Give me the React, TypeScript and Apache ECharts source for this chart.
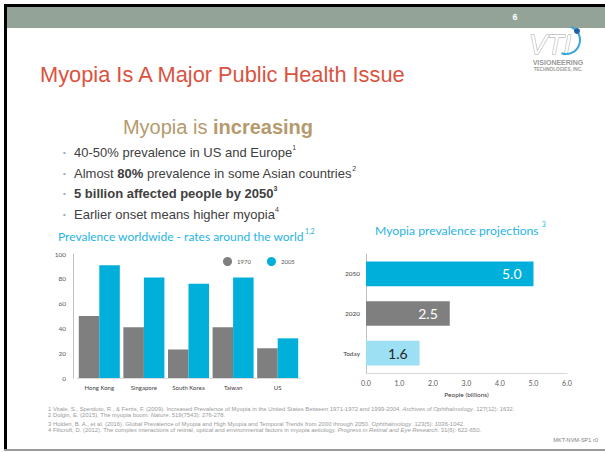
import React, { useEffect, useRef } from "react";
import * as echarts from "echarts";

// ---------- data ----------
const regions = ["Hong Kong", "Singapore", "South Korea", "Taiwan", "US"];
const rate1970 = [50, 41, 23, 41, 24];
const rate2005 = [91, 81, 76, 81, 32];
const legendNames = ["1970", "2005"];

const projCategories = ["Today", "2020", "2050"];
const projValues = [1.6, 2.5, 5.0];
const projColors = ["#9ddff3", "#7f7f7f", "#00b0da"];
const projLabelColors = ["#262626", "#ffffff", "#ffffff"];

const bullets = [
  "{n|40-50% prevalence in US and Europe}{s|1}",
  "{n|Almost }{b|80%}{n| prevalence in some Asian countries}{s|2}",
  "{b|5 billion affected people by 2050}{sb|3}",
  "{n|Earlier onset means higher myopia}{s|4}",
];

const footnotes = [
  "{n|1 Vitale, S., Sperduto, R., & Ferris, F. (2009). Increased Prevalence of Myopia in the United States Between 1971-1972 and 1999-2004. }{i|Archives of Ophthalmology}{n|. 127(12): 1632.}",
  "{n|2 Dolgin, E. (2015). The myopia boom. }{i|Nature}{n|. 519(7543): 276-278.}",
  "{n|3 Holden, B. A., et al. (2016). Global Prevalence of Myopia and High Myopia and Temporal Trends from 2000 through 2050. }{i|Ophthalmology}{n|. 123(5): 1036-1042.}",
  "{n|4 Flitcroft, D. (2012). The complex interactions of retinal, optical and environmental factors in myopia aetiology. }{i|Progress in Retinal and Eye Research}{n|. 31(6): 622-650.}",
];

const GRAY = "#7f7f7f";
const CYAN = "#00b0da";
const TITLE_CYAN = "#27b4e3";
const GEO = "Lato, 'DejaVu Sans', sans-serif";
const ARIAL = "'Liberation Sans', Arial, sans-serif";

export default function App() {
  const ref = useRef<HTMLDivElement>(null);

  useEffect(() => {
    if (!ref.current) return;
    const chart = echarts.init(ref.current, undefined, { renderer: "svg" });

    const bulletY = [152, 173, 193, 214];
    const footY = [409, 415, 424, 430];

    const graphic: any[] = [
      // slide frame
      { type: "rect", shape: { x: 4, y: 4, width: 601, height: 3 }, style: { fill: "#000" } },
      { type: "rect", shape: { x: 4, y: 4, width: 3, height: 447 }, style: { fill: "#000" } },
      { type: "rect", shape: { x: 7, y: 7, width: 598, height: 21 }, style: { fill: "#94a398" } },
      { type: "rect", shape: { x: 4, y: 449, width: 601, height: 2 }, style: { fill: "#9a9a9a" } },
      {
        type: "text",
        style: { x: 515, y: 17, text: "6", fill: "#ffffff", fontSize: 9, fontWeight: "bold", fontFamily: ARIAL, align: "center", verticalAlign: "middle" },
      },
      // logo
      {
        type: "text",
        style: { x: 529, y: 31, text: "VTI", fill: "#ffffff", stroke: "#a5a5a5", lineWidth: 1, fontSize: 27, fontStyle: "italic", fontFamily: ARIAL },
      },
      {
        type: "arc",
        shape: { cx: 566, cy: 40, r: 14, startAngle: -1.2, endAngle: 1.9, clockwise: true },
        style: { stroke: "#3aa6d8", lineWidth: 2, fill: "none" },
      },
      { type: "circle", shape: { cx: 577, cy: 31, r: 3 }, style: { fill: "#1f5fa8" } },
      {
        type: "text",
        style: { x: 558, y: 62, text: "VISIONEERING", fill: "#9a9a9a", fontSize: 7, fontWeight: "bold", fontFamily: "'Liberation Sans Narrow', " + ARIAL, align: "center", verticalAlign: "middle" },
      },
      {
        type: "text",
        style: { x: 558, y: 69, text: "TECHNOLOGIES, INC.", fill: "#9a9a9a", fontSize: 4.6, fontWeight: "bold", fontFamily: "'Liberation Sans Narrow', " + ARIAL, align: "center", verticalAlign: "middle" },
      },
      // slide title
      {
        type: "text",
        style: { x: 40, y: 74, text: "Myopia Is A Major Public Health Issue", fill: "#da5340", fontSize: 21.8, fontFamily: ARIAL, verticalAlign: "middle" },
      },
      // subtitle
      {
        type: "text",
        style: {
          x: 218, y: 127, text: "{n|Myopia is }{b|increasing}", align: "center", verticalAlign: "middle",
          rich: {
            n: { fontSize: 20, fontFamily: ARIAL, fill: "#b59a6e" },
            b: { fontSize: 20, fontFamily: ARIAL, fill: "#b59a6e", fontWeight: "bold" },
          },
        },
      },
      // chart titles
      {
        type: "text",
        style: {
          x: 58, y: 236, text: "{n|Prevalence worldwide - rates around the world}{s|1,2}", verticalAlign: "middle",
          rich: {
            n: { fontSize: 12, fontFamily: GEO, fill: TITLE_CYAN, lineHeight: 18 },
            s: { fontSize: 7, fontFamily: GEO, fill: TITLE_CYAN, lineHeight: 4, verticalAlign: "top", padding: [0, 0, 0, 1] },
          },
        },
      },
      {
        type: "text",
        style: {
          x: 375, y: 230, text: "{n|Myopia prevalence projections}{s|3}", verticalAlign: "middle",
          rich: {
            n: { fontSize: 12.2, fontFamily: GEO, fill: TITLE_CYAN, lineHeight: 20 },
            s: { fontSize: 7, fontFamily: GEO, fill: TITLE_CYAN, lineHeight: 4, verticalAlign: "top", padding: [0, 0, 0, 3] },
          },
        },
      },
      // doc code
      {
        type: "text",
        style: { x: 598, y: 440, text: "MKT-NVM-SP1 r0", fill: "#808080", fontSize: 5.6, fontFamily: ARIAL, align: "right", verticalAlign: "middle" },
      },
    ];

    bullets.forEach((b, i) => {
      graphic.push({
        type: "text",
        style: { x: 63, y: bulletY[i], text: "•", fill: "#a6a6a6", fontSize: 8, fontFamily: ARIAL, verticalAlign: "middle" },
      });
      graphic.push({
        type: "text",
        style: {
          x: 74, y: bulletY[i], text: b, verticalAlign: "middle",
          rich: {
            n: { fontSize: 13, fontFamily: ARIAL, fill: "#404040", lineHeight: 16 },
            b: { fontSize: 13, fontFamily: ARIAL, fill: "#404040", fontWeight: "bold", lineHeight: 16 },
            s: { fontSize: 7, fontFamily: ARIAL, fill: "#404040", lineHeight: 8, verticalAlign: "top" },
            sb: { fontSize: 7, fontFamily: ARIAL, fill: "#404040", fontWeight: "bold", lineHeight: 8, verticalAlign: "top" },
          },
        },
      });
    });

    footnotes.forEach((f, i) => {
      graphic.push({
        type: "text",
        style: {
          x: 48, y: footY[i], text: f, verticalAlign: "middle",
          rich: {
            n: { fontSize: 5.9, fontFamily: ARIAL, fill: "#9a9a9a" },
            i: { fontSize: 5.9, fontFamily: ARIAL, fill: "#9a9a9a", fontStyle: "italic" },
          },
        },
      });
    });

    const option: any = {
      animation: false,
      backgroundColor: "#ffffff",
      textStyle: { fontFamily: GEO },
      graphic,
      legend: {
        data: legendNames,
        left: 218,
        top: 252,
        icon: "circle",
        itemWidth: 9,
        itemHeight: 9,
        itemGap: 16,
        textStyle: { fontSize: 6, color: "#595959", fontFamily: GEO },
      },
      grid: [
        { left: 77, top: 254, width: 223, height: 124 },
        { left: 366, top: 254, width: 201, height: 119 },
      ],
      xAxis: [
        {
          type: "category",
          gridIndex: 0,
          data: regions,
          axisLine: { lineStyle: { color: "#d9d9d9" } },
          axisTick: { show: false },
          axisLabel: { fontSize: 6, color: "#404040", margin: 6, fontFamily: GEO, interval: 0, hideOverlap: false },
        },
        {
          type: "value",
          gridIndex: 1,
          min: 0,
          max: 6,
          interval: 1,
          splitLine: { show: false },
          axisLine: { show: true, lineStyle: { color: "#d9d9d9" } },
          axisTick: { show: false },
          axisLabel: { fontSize: 7, color: "#595959", margin: 6, fontFamily: GEO, formatter: (v: number) => v.toFixed(1) },
          name: "People (billions)",
          nameLocation: "middle",
          nameGap: 18,
          nameTextStyle: { fontSize: 6.5, color: "#404040", fontFamily: GEO, fontWeight: "normal" },
        },
      ],
      yAxis: [
        {
          type: "value",
          gridIndex: 0,
          min: 0,
          max: 100,
          interval: 20,
          offset: 4,
          splitLine: { show: false },
          axisLine: { show: true, lineStyle: { color: "#bfbfbf" } },
          axisTick: { show: false },
          axisLabel: { fontSize: 6.5, color: "#595959", margin: 7, fontFamily: GEO },
        },
        {
          type: "category",
          gridIndex: 1,
          data: projCategories,
          axisLine: { show: true, lineStyle: { color: "#bfbfbf" } },
          axisTick: { show: false },
          axisLabel: { fontSize: 6.5, color: "#404040", margin: 6, fontFamily: GEO },
        },
      ],
      series: [
        {
          name: legendNames[0],
          type: "bar",
          xAxisIndex: 0,
          yAxisIndex: 0,
          data: rate1970,
          itemStyle: { color: GRAY },
          barGap: "0%",
          barCategoryGap: "8%",
        },
        {
          name: legendNames[1],
          type: "bar",
          xAxisIndex: 0,
          yAxisIndex: 0,
          data: rate2005,
          itemStyle: { color: CYAN },
          barGap: "0%",
          barCategoryGap: "8%",
        },
        {
          name: "Projection",
          type: "bar",
          xAxisIndex: 1,
          yAxisIndex: 1,
          barCategoryGap: "38%",
          data: projValues.map((v, i) => ({
            value: v,
            itemStyle: { color: projColors[i] },
            label: { color: projLabelColors[i] },
          })),
          label: {
            show: true,
            position: "insideRight",
            distance: 12,
            fontSize: 14,
            fontFamily: GEO,
            formatter: (p: any) => Number(p.value).toFixed(1),
          },
        },
      ],
    };

    chart.setOption(option);
    return () => chart.dispose();
  }, []);

  return (
    <div
      ref={ref}
      style={{ position: "absolute", left: 0, top: 0, width: 605, height: 452 }}
    />
  );
}
